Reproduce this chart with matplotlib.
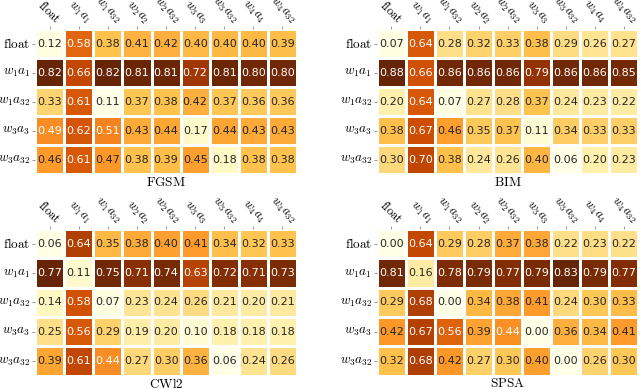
import numpy as np
import matplotlib
matplotlib.use("Agg")
import matplotlib.pyplot as plt
import seaborn as sns

plt.rcParams['mathtext.fontset'] = 'cm'

# row = model used to craft the attack, column = model under attack
labels = [r'$\mathrm{float}$', r'$w_1a_1$', r'$w_1a_{32}$', r'$w_2a_2$', r'$w_2a_{32}$',
          r'$w_3a_3$', r'$w_3a_{32}$', r'$w_4a_4$', r'$w_4a_{32}$']
row_labels = [labels[0], labels[1], labels[2], labels[5], labels[6]]

fgsm = [[0.12, 0.58, 0.38, 0.41, 0.42, 0.40, 0.40, 0.40, 0.39],
        [0.82, 0.66, 0.82, 0.81, 0.81, 0.72, 0.81, 0.80, 0.80],
        [0.33, 0.61, 0.11, 0.37, 0.38, 0.42, 0.37, 0.36, 0.36],
        [0.49, 0.62, 0.51, 0.43, 0.44, 0.17, 0.44, 0.43, 0.43],
        [0.46, 0.61, 0.47, 0.38, 0.39, 0.45, 0.18, 0.38, 0.38]]
bim = [[0.07, 0.64, 0.28, 0.32, 0.33, 0.38, 0.29, 0.26, 0.27],
       [0.88, 0.66, 0.86, 0.86, 0.86, 0.79, 0.86, 0.86, 0.85],
       [0.20, 0.64, 0.07, 0.27, 0.28, 0.37, 0.24, 0.23, 0.22],
       [0.38, 0.67, 0.46, 0.35, 0.37, 0.11, 0.34, 0.33, 0.33],
       [0.30, 0.70, 0.38, 0.24, 0.26, 0.40, 0.06, 0.20, 0.23]]
cwl2 = [[0.06, 0.64, 0.35, 0.38, 0.40, 0.41, 0.34, 0.32, 0.33],
        [0.77, 0.11, 0.75, 0.71, 0.74, 0.63, 0.72, 0.71, 0.73],
        [0.14, 0.58, 0.07, 0.23, 0.24, 0.26, 0.21, 0.20, 0.21],
        [0.25, 0.56, 0.29, 0.19, 0.20, 0.10, 0.18, 0.18, 0.18],
        [0.39, 0.61, 0.44, 0.27, 0.30, 0.36, 0.06, 0.24, 0.26]]
spsa = [[0.00, 0.64, 0.29, 0.28, 0.37, 0.38, 0.22, 0.23, 0.22],
        [0.81, 0.16, 0.78, 0.79, 0.77, 0.79, 0.83, 0.79, 0.77],
        [0.29, 0.68, 0.00, 0.34, 0.38, 0.41, 0.24, 0.30, 0.33],
        [0.42, 0.67, 0.56, 0.39, 0.44, 0.00, 0.36, 0.34, 0.41],
        [0.32, 0.68, 0.42, 0.27, 0.30, 0.40, 0.00, 0.26, 0.30]]

panels = [('FGSM', fgsm), ('BIM', bim), ('CWl2', cwl2), ('SPSA', spsa)]
boxes = [[0.055, 0.552, 0.409, 0.373],
         [0.589, 0.552, 0.408, 0.373],
         [0.055, 0.034, 0.409, 0.377],
         [0.589, 0.034, 0.408, 0.377]]

fig = plt.figure(figsize=(6.4, 3.89), dpi=100)
for (name, vals), box in zip(panels, boxes):
    ax = fig.add_axes(box)
    sns.heatmap(np.array(vals), ax=ax, cmap='YlOrBr', annot=True, fmt='.2f',
                annot_kws={'size': 8}, linewidths=0.8, linecolor='white',
                cbar=False, xticklabels=labels, yticklabels=row_labels)
    ax.xaxis.tick_top()
    ax.xaxis.set_label_position('bottom')
    ax.set_xticklabels(labels, rotation=-45, ha='center', fontsize=9)
    ax.set_yticklabels(row_labels, rotation=0, fontsize=9.5)
    ax.tick_params(length=2, width=0.6, color='#888888', pad=1.5)
    ax.tick_params(axis='x', pad=0)
    ax.set_xlabel(r'$\mathrm{' + name + '}$', fontsize=9.5, labelpad=1)

fig.savefig('out.png', dpi=100)
